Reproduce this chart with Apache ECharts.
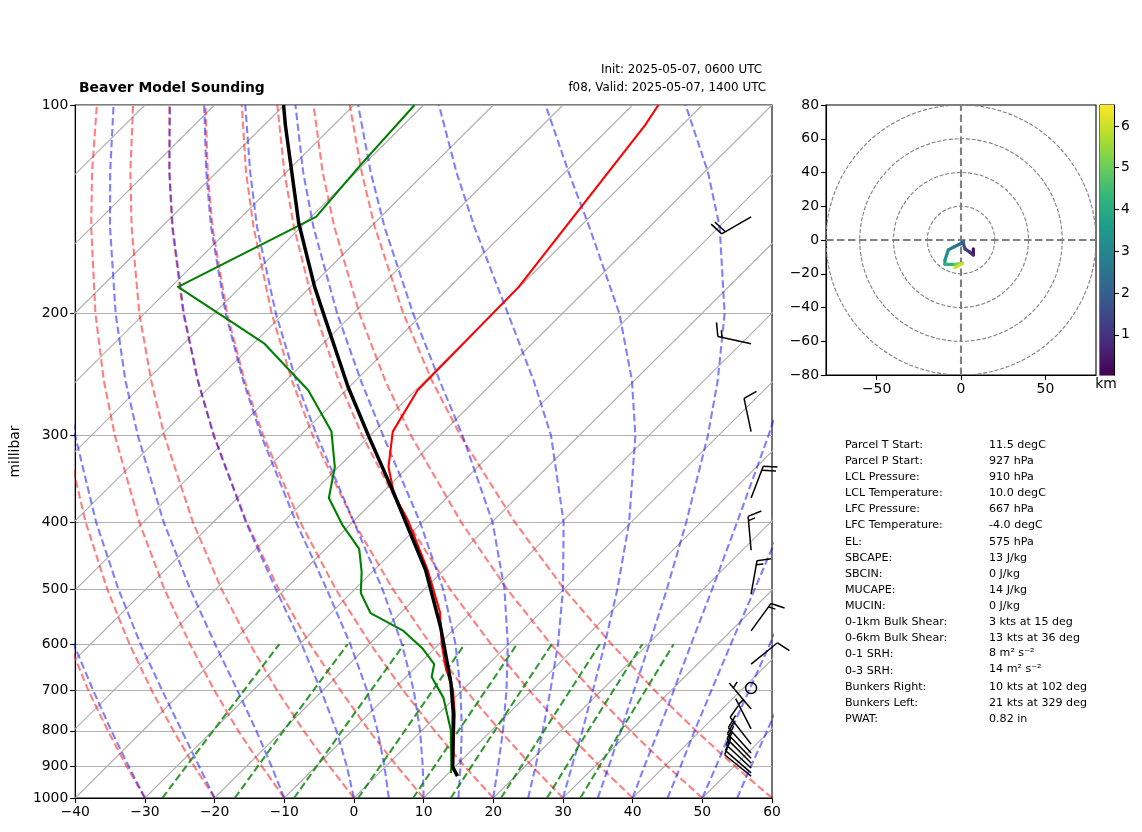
<!DOCTYPE html>
<html lang="en">
<head>
    <meta charset="UTF-8">
    <title>Beaver Model Sounding</title>
    <style>
        body {
            margin: 0;
            background: white;
        }

        #fig {
            height: 832px;
            width: 1142px;
        }
    </style>
    <script src="https://cdn.jsdelivr.net/npm/echarts@6/dist/echarts.min.js"></script>
</head>
<body>
<div id="fig"></div>
<script>
    // pressure levels the background curves are tabulated on
    const levels = [1000, 900, 800, 700, 600, 500, 400, 300, 250, 200, 150, 125, 100];
    const pressureTicks = [100, 200, 300, 400, 500, 600, 700, 800, 900, 1000];
    const isotherms = [-130, -120, -110, -100, -90, -80, -70, -60, -50, -40, -30, -20, -10, 0, 10, 20, 30, 40, 50];

    // dry adiabats, temperature at each level
    const dryAdiabats = [
        [-30.0, -37.2, -45.0, -53.6, -63.0, -73.7, -86.0, -100.8, -109.5, -119.6, -131.7, -138.9, -147.2],
        [-20.0, -27.5, -35.6, -44.5, -54.4, -65.5, -78.3, -93.7, -102.8, -113.3, -125.9, -133.4, -142.0],
        [-10.0, -17.8, -26.3, -35.5, -45.7, -57.3, -70.6, -86.6, -96.1, -107.0, -120.1, -127.9, -136.9],
        [0.0, -8.1, -16.9, -26.5, -37.1, -49.1, -62.9, -79.5, -89.3, -100.7, -114.3, -122.4, -131.7],
        [10.0, 1.6, -7.5, -17.4, -28.5, -40.9, -55.2, -72.4, -82.6, -94.4, -108.5, -116.8, -126.5],
        [20.0, 11.3, 1.9, -8.4, -19.8, -32.7, -47.5, -65.3, -75.9, -88.1, -102.7, -111.3, -121.3],
        [30.0, 21.0, 11.3, 0.6, -11.2, -24.5, -39.8, -58.2, -69.1, -81.7, -96.8, -105.8, -116.1],
        [40.0, 30.7, 20.7, 9.7, -2.5, -16.3, -32.1, -51.1, -62.4, -75.4, -91.0, -100.3, -111.0],
        [50.0, 40.4, 30.0, 18.7, 6.1, -8.1, -24.4, -44.1, -55.7, -69.1, -85.2, -94.8, -105.8],
        [60.0, 50.1, 39.4, 27.7, 14.8, 0.1, -16.7, -37.0, -49.0, -62.8, -79.4, -89.2, -100.6]
    ];

    // moist adiabats, temperature at each level
    const moistAdiabats = [
        [-30.0, -36.9, -44.5, -52.9, -62.4, -73.0, -85.4, -100.2, -109.0, -119.1, -131.3, -138.5, -146.8],
        [-20.0, -26.8, -34.4, -43.0, -52.8, -63.9, -76.8, -92.3, -101.5, -112.1, -124.8, -132.3, -141.0],
        [-10.0, -16.4, -23.7, -32.2, -42.1, -53.6, -67.1, -83.3, -93.0, -104.1, -117.4, -125.3, -134.5],
        [0.0, -5.6, -12.2, -20.2, -29.7, -41.3, -55.3, -72.4, -82.6, -94.3, -108.4, -116.8, -126.4],
        [5.0, -0.2, -6.3, -13.6, -22.7, -34.0, -48.1, -65.6, -76.1, -88.3, -102.9, -111.5, -121.5],
        [10.0, 5.3, -0.2, -6.9, -15.3, -26.0, -39.8, -57.6, -68.5, -81.1, -96.3, -105.2, -115.6],
        [15.0, 10.7, 5.8, -0.2, -7.6, -17.3, -30.3, -48.1, -59.2, -72.3, -88.2, -97.6, -108.4],
        [20.0, 16.1, 11.7, 6.4, -0.1, -8.5, -19.9, -36.7, -47.9, -61.4, -78.0, -87.9, -99.4],
        [25.0, 21.5, 17.4, 12.7, 7.1, -0.1, -9.7, -24.0, -34.4, -47.8, -65.1, -75.6, -87.8],
        [30.0, 26.7, 23.1, 18.8, 13.8, 7.7, -0.3, -11.9, -20.3, -31.8, -48.6, -59.5, -72.5],
        [35.0, 32.0, 28.6, 24.7, 20.2, 14.8, 7.9, -1.5, -8.0, -16.7, -29.9, -39.5, -52.4],
        [40.0, 37.1, 34.0, 30.4, 26.2, 21.3, 15.2, 7.2, 1.9, -4.8, -14.2, -21.0, -30.3],
        [45.0, 42.3, 39.2, 35.8, 31.9, 27.4, 21.8, 14.6, 10.1, 4.4, -3.0, -7.9, -14.3],
        [50.0, 47.4, 44.4, 41.2, 37.5, 33.1, 27.9, 21.2, 17.1, 12.0, 5.6, 1.4, -3.6],
        [55.0, 52.4, 49.6, 46.4, 42.8, 38.6, 33.6, 27.3, 23.3, 18.6, 12.7, 8.9, 4.4]
    ];

    // mixing ratio lines, 1000 to 600 hPa
    const mixingLevels = [1000, 800, 600];
    const mixingLines = [
        [-27.5, -29.9, -32.9],
        [-17.1, -19.8, -23.1],
        [-8.6, -11.4, -15.0],
        [0.6, -2.4, -6.3],
        [8.5, 5.3, 1.2],
        [13.9, 10.5, 6.2],
        [21.1, 17.6, 13.1],
        [27.7, 23.9, 19.2],
        [32.5, 28.6, 23.7]
    ];

    // sounding profiles
    const tempPres = [100, 107, 183, 258, 296, 333, 365, 397, 469, 539, 601, 649, 698, 759, 902];
    const tempVals = [-56.3, -55.3, -50.1, -49.7, -47.3, -42.8, -38.0, -32.4, -22.3, -14.5, -9.5, -5.6, -1.4, 2.5, 9.7];
    const blackPres = [100, 107, 148, 183, 208, 255, 301, 363, 415, 469, 567, 682, 754, 902, 930];
    const blackVals = [-110.1, -106.9, -90.9, -79.4, -72.0, -60.2, -50.0, -38.3, -30.1, -22.6, -12.2, -2.7, 2.0, 9.7, 11.7];
    const dewPres = [100, 122, 145, 183, 204, 221, 258, 296, 333, 369, 404, 437, 472, 506, 541, 574, 608, 641, 669, 717, 798, 902, 920];
    const dewVals = [-91.3, -90.4, -89.3, -99.0, -87.1, -78.4, -65.4, -56.1, -50.5, -46.9, -41.0, -35.2, -31.5, -28.6, -24.3, -17.0, -11.8, -7.8, -6.3, -1.6, 4.1, 9.5, 10.3];

    // wind barbs
    const barbPres = [145, 221, 296, 369, 439, 508, 574, 641, 694, 744, 795, 836, 861, 876, 890, 905, 920, 930];
    const barbSpeed = [20, 15, 10, 20, 15, 15, 15, 10, 0, 5, 5, 10, 10, 10, 10, 10, 10, 10];
    const barbDir = [240, 282, 348, 21, 355, 10, 36, 51, 0, 320, 333, 322, 318, 316, 315, 313, 311, 309];

    // hodograph
    const hodoU = [7.3, 7.3, 5, 2.4, 1.4, 1.4, -0.6, -4, -7.5, -9.5, -9.5, -3.6, 1, -3.6];
    const hodoV = [-5.3, -8.9, -7, -5.3, -2, -1, -2.4, -4, -5.9, -11.9, -14.4, -14.4, -13.8, -16.4];
    const hodoKm = [0.1, 0.5, 0.9, 1.3, 1.7, 2, 2.3, 2.6, 3, 3.4, 3.8, 4.6, 5.6, 6.4];
    const hodoRings = [20, 40, 60, 80];
    const viridis = ['#440154', '#482878', '#3e4989', '#31688e', '#26828e', '#1f9e89', '#35b779', '#6ece58', '#b5de2b', '#fde725'];

    // text table
    const tableNames = ['Parcel T Start:', 'Parcel P Start:', 'LCL Pressure:', 'LCL Temperature:', 'LFC Pressure:', 'LFC Temperature:', 'EL:', 'SBCAPE:', 'SBCIN:', 'MUCAPE:', 'MUCIN:', '0-1km Bulk Shear:', '0-6km Bulk Shear:', '0-1 SRH:', '0-3 SRH:', 'Bunkers Right:', 'Bunkers Left:', 'PWAT:'];
    const tableVals = ['11.5 degC', '927 hPa', '910 hPa', '10.0 degC', '667 hPa', '-4.0 degC', '575 hPa', '13 J/kg', '0 J/kg', '14 J/kg', '0 J/kg', '3 kts at 15 deg', '13 kts at 36 deg', '8 m\u00b2 s\u207b\u00b2', '14 m\u00b2 s\u207b\u00b2', '10 kts at 102 deg', '21 kts at 329 deg', '0.82 in'];

    const FONT = 'DejaVu Sans';
    const KM_MIN = 0.04, KM_MAX = 6.5;

    // skewed position of a temperature at a pressure, 100 degrees per decade
    function skewPoint(t, p) {
        return [t + 100 * Math.log10(1000 / p), Math.log10(p)];
    }

    function curve(temps, pres, color, width, opacity, dash, z) {
        return {
            type: 'line',
            xAxisIndex: 0,
            yAxisIndex: 0,
            data: temps.map((t, i) => skewPoint(t, pres[i])),
            showSymbol: false,
            silent: true,
            z: z,
            lineStyle: {color: color, width: width, opacity: opacity, type: dash || 'solid', join: 'round'}
        };
    }

    let series = [];
    isotherms.forEach(t => series.push(curve([t, t], [1000, 100], '#b0b0b0', 1.1, 1, null, 1)));
    dryAdiabats.forEach(a => series.push(curve(a, levels, '#ff0000', 2.1, 0.5, [7.5, 3.5], 2)));
    moistAdiabats.forEach(a => series.push(curve(a, levels, '#0000ff', 2.1, 0.5, [7.5, 3.5], 2)));
    mixingLines.forEach(a => series.push(curve(a, mixingLevels, '#008000', 2.1, 0.8, [7.5, 3.5], 2)));
    series.push(curve(tempVals, tempPres, '#ff0000', 2.1, 1, null, 4));
    series.push(curve(dewVals, dewPres, '#008000', 2.1, 1, null, 4));
    series.push(curve(blackVals, blackPres, '#000000', 3.5, 1, null, 5));

    // barbs are laid out in pixels from the anchor, same proportions as matplotlib
    series.push({
        type: 'custom',
        xAxisIndex: 0,
        yAxisIndex: 0,
        clip: false,
        silent: true,
        z: 6,
        data: barbPres.map((p, i) => [57, Math.log10(p), barbSpeed[i], barbDir[i]]),
        renderItem: function (params, api) {
            const o = api.coord([api.value(0), api.value(1)]);
            const speed = api.value(2), rad = api.value(3) * Math.PI / 180;
            const style = {stroke: '#000', lineWidth: 1.5, fill: null};
            if (speed < 2.5) {
                return {type: 'circle', shape: {cx: o[0], cy: o[1], r: 5.5}, style: style};
            }
            const L = 34, gap = L * 0.125;
            const ux = Math.sin(rad), uy = -Math.cos(rad), nx = Math.cos(rad), ny = Math.sin(rad);
            const end = [o[0] + L * ux, o[1] + L * uy];
            const at = (along, out) => [end[0] + along * ux + out * nx, end[1] + along * uy + out * ny];
            const kids = [{type: 'polyline', shape: {points: [o, end]}, style: style}];
            let back = 0;
            const fulls = Math.floor(speed / 10), half = speed % 10 >= 5;
            for (let i = 0; i < fulls; i++) {
                kids.push({type: 'polyline', shape: {points: [at(-back, 0), at(-back + gap, L * 0.4)]}, style: style});
                back += gap;
            }
            if (half) {
                if (fulls === 0) back = 1.5 * gap;
                kids.push({type: 'polyline', shape: {points: [at(-back, 0), at(-back + gap / 2, L * 0.2)]}, style: style});
            }
            return {type: 'group', children: kids};
        }
    });

    // hodograph rings, axes and height coloured trace
    series.push({
        type: 'custom',
        xAxisIndex: 1,
        yAxisIndex: 1,
        clip: true,
        silent: true,
        data: hodoRings,
        encode: {x: 0, y: 0},
        renderItem: function (params, api) {
            const c = api.coord([0, 0]);
            return {
                type: 'circle',
                shape: {cx: c[0], cy: c[1], r: api.size([api.value(0), 0])[0]},
                style: {stroke: '#808080', lineWidth: 1.1, fill: null, lineDash: [4, 1.8]}
            };
        }
    });
    [[[-80, 0], [80, 0]], [[0, -80], [0, 80]]].forEach(d => series.push({
        type: 'line',
        xAxisIndex: 1,
        yAxisIndex: 1,
        data: d,
        showSymbol: false,
        silent: true,
        lineStyle: {color: '#808080', width: 2.1, type: [7.5, 3.5]}
    }));
    series.push({
        type: 'custom',
        xAxisIndex: 1,
        yAxisIndex: 1,
        silent: true,
        z: 5,
        data: hodoU.slice(0, -1).map((u, i) => [u, hodoV[i], hodoU[i + 1], hodoV[i + 1], (hodoKm[i] + hodoKm[i + 1]) / 2]),
        encode: {x: [0, 2], y: [1, 3]},
        renderItem: function (params, api) {
            const color = echarts.color.lerp((api.value(4) - KM_MIN) / (KM_MAX - KM_MIN), viridis);
            return {
                type: 'line',
                shape: {
                    x1: api.coord([api.value(0), api.value(1)])[0],
                    y1: api.coord([api.value(0), api.value(1)])[1],
                    x2: api.coord([api.value(2), api.value(3)])[0],
                    y2: api.coord([api.value(2), api.value(3)])[1]
                },
                style: {stroke: color, lineWidth: 3.2, lineCap: 'round'}
            };
        }
    });

    // colorbar
    series.push({
        type: 'custom',
        xAxisIndex: 2,
        yAxisIndex: 2,
        silent: true,
        data: [[0, KM_MIN, 1, KM_MAX]],
        encode: {x: [0, 2], y: [1, 3]},
        renderItem: function (params, api) {
            const a = api.coord([api.value(0), api.value(3)]);
            const b = api.coord([api.value(2), api.value(1)]);
            const stops = viridis.map((c, i) => ({offset: 1 - i / (viridis.length - 1), color: c}));
            return {
                type: 'rect',
                shape: {x: a[0], y: a[1], width: b[0] - a[0], height: b[1] - a[1]},
                style: {fill: new echarts.graphic.LinearGradient(0, 0, 0, 1, stops)}
            };
        }
    });

    const minus = v => String(v).replace('-', '\u2212');
    const label = {color: '#000', fontFamily: FONT, fontSize: 13.9, margin: 7};
    const tick = {length: 5, inside: false, lineStyle: {color: '#000', width: 1.1}};
    const line = {show: true, onZero: false, lineStyle: {color: '#000', width: 1.1}};
    const gridBox = {show: true, borderColor: '#000', borderWidth: 1.1, containLabel: false, backgroundColor: 'transparent'};
    const noSplit = {show: false};

    const text = (s, x, y, size, align, weight) => ({
        type: 'text',
        silent: true,
        style: {text: s, x: x, y: y, fill: '#000', font: (weight || 'normal') + ' ' + size + 'px "' + FONT + '"', textAlign: align || 'left', textVerticalAlign: 'middle'}
    });
    let labels = [
        text('Beaver Model Sounding', 79, 88, 13.9, 'left', 'bold'),
        text('Init: 2025-05-07, 0600 UTC', 762, 70, 11.9, 'right'),
        text('f08, Valid: 2025-05-07, 1400 UTC', 766, 88, 11.9, 'right'),
        text('km', 1106, 384, 13.9, 'center')
    ];
    tableNames.forEach((s, i) => {
        const y = 445 + i * 16.12;
        labels.push(text(s, 845, y, 11.1));
        labels.push(text(tableVals[i], 989, (i === 13 || i === 14) ? y - 1.5 : y, 11.1));
    });

    const fig = echarts.init(document.getElementById('fig'), null, {renderer: 'canvas'});
    fig.setOption({
        animation: false,
        backgroundColor: '#fff',
        grid: [
            Object.assign({left: 74, top: 105, width: 698, height: 693}, gridBox),
            Object.assign({left: 826, top: 105, width: 270, height: 270}, gridBox),
            Object.assign({left: 1100, top: 105, width: 14, height: 270}, gridBox)
        ],
        xAxis: [
            {type: 'value', gridIndex: 0, min: -40, max: 60, interval: 10, axisLine: line, axisTick: tick, axisLabel: Object.assign({formatter: minus}, label), splitLine: noSplit},
            {type: 'value', gridIndex: 1, min: -80, max: 80, axisLine: line, axisTick: Object.assign({customValues: [-50, 0, 50]}, tick), axisLabel: Object.assign({customValues: [-50, 0, 50], formatter: minus}, label), splitLine: noSplit},
            {type: 'value', gridIndex: 2, min: 0, max: 1, show: false}
        ],
        yAxis: [
            {
                type: 'value', gridIndex: 0, min: 2, max: 3, inverse: true,
                name: 'millibar', nameLocation: 'middle', nameGap: 52, nameRotate: 90,
                nameTextStyle: {color: '#000', fontFamily: FONT, fontSize: 13.9},
                axisLine: line,
                axisTick: Object.assign({customValues: pressureTicks.map(Math.log10)}, tick),
                axisLabel: Object.assign({customValues: pressureTicks.map(Math.log10), formatter: v => String(Math.round(Math.pow(10, v)))}, label),
                splitLine: {show: true, lineStyle: {color: '#b0b0b0', width: 1.1}}
            },
            {type: 'value', gridIndex: 1, min: -80, max: 80, interval: 20, axisLine: line, axisTick: tick, axisLabel: Object.assign({formatter: minus}, label), splitLine: noSplit},
            {
                type: 'value', gridIndex: 2, min: KM_MIN, max: KM_MAX, position: 'right',
                axisLine: line,
                axisTick: Object.assign({customValues: [1, 2, 3, 4, 5, 6]}, tick),
                axisLabel: Object.assign({customValues: [1, 2, 3, 4, 5, 6]}, label),
                splitLine: noSplit
            }
        ],
        graphic: labels,
        series: series
    });
</script>
</body>
</html>
